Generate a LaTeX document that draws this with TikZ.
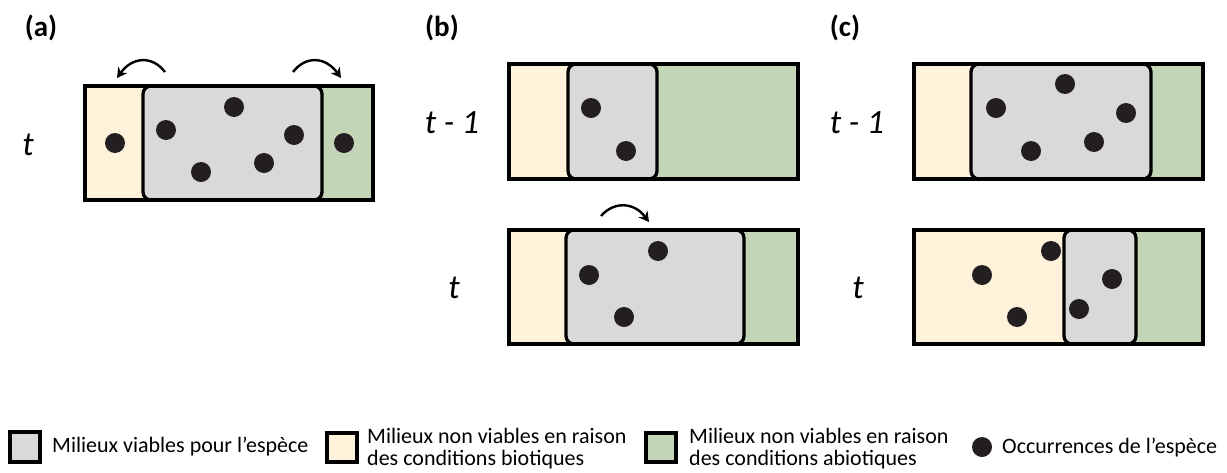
\documentclass[tikz,border=0pt]{standalone}
\usepackage{fontspec}
\setmainfont{Carlito}
\usetikzlibrary{arrows.meta}
\definecolor{zoneGrey}{RGB}{217, 217, 217}
\definecolor{zoneBiotic}{RGB}{255, 242, 218}
\definecolor{zoneAbiotic}{RGB}{194, 213, 182}
\definecolor{dotBlack}{RGB}{35, 31, 32}

\tikzset{
  zoneline/.style={draw=black, line width=3.3pt},
  viable/.style={fill=zoneGrey, draw=black, line width=3.3pt, rounded corners=8pt},
  occ/.style={fill=dotBlack},
  shiftarrow/.style={line width=2.4pt, -{Stealth[length=10pt, width=11pt]}},
  timelabel/.style={anchor=base, inner sep=0pt, font=\itshape\fontsize{34}{38}\selectfont},
  panellabel/.style={font=\bfseries\fontsize{29}{34}\selectfont},
  legendtext/.style={anchor=base west, inner sep=0pt, align=left, font=\fontsize{22}{22}\selectfont},
  legendbox/.style={draw=black, line width=3.3pt}
}

\begin{document}
\begin{tikzpicture}[x=1pt, y=-1pt]
  \useasboundingbox (0,0) rectangle (1227,472);

  % panel (a)
  \node[panellabel] (lab-a) at (41,28) {(a)};
  \node[timelabel] (t-a) at (28,155) {t};
  \fill[zoneBiotic] (85,86) rectangle (143,200);
  \fill[zoneAbiotic] (322,86) rectangle (373,200);
  \draw[viable] (143,86) rectangle (322,200);
  \draw[zoneline] (85,86) rectangle (373,200);
  \foreach \p in {(115,143),(166,130),(234,107),(294,135),(201,172),(264,163),(344,143)}
    \fill[occ] \p circle (10);
  \coordinate (a-left-s) at (165,72);
  \coordinate (a-left-e) at (117,78);
  \coordinate (a-right-s) at (293,72);
  \coordinate (a-right-e) at (341,78);
  \draw[shiftarrow] (a-left-s) .. controls (152,55) and (132,57) .. (a-left-e);
  \draw[shiftarrow] (a-right-s) .. controls (306,55) and (326,57) .. (a-right-e);

  % panel (b)
  \node[panellabel] (lab-b) at (442,28) {(b)};
  \node[timelabel] (t1-b) at (452,133) {t - 1};
  \node[timelabel] (t-b) at (454,298) {t};
  % t - 1
  \fill[zoneBiotic] (509,64) rectangle (568,179);
  \fill[zoneAbiotic] (657,64) rectangle (798,179);
  \draw[viable] (568,64) rectangle (657,179);
  \draw[zoneline] (509,64) rectangle (798,179);
  \foreach \p in {(591,108),(626,151)}
    \fill[occ] \p circle (10);
  % t
  \fill[zoneBiotic] (509,230) rectangle (566,344);
  \fill[zoneAbiotic] (744,230) rectangle (798,344);
  \draw[viable] (566,230) rectangle (744,344);
  \draw[zoneline] (509,230) rectangle (798,344);
  \foreach \p in {(658,251),(589,275),(624,317)}
    \fill[occ] \p circle (10);
  \coordinate (b-shift-s) at (601,216);
  \coordinate (b-shift-e) at (649,222);
  \draw[shiftarrow] (b-shift-s) .. controls (614,201) and (634,202) .. (b-shift-e);

  % panel (c)
  \node[panellabel] (lab-c) at (845,28) {(c)};
  \node[timelabel] (t1-c) at (857,133) {t - 1};
  \node[timelabel] (t-c) at (858,298) {t};
  % t - 1
  \fill[zoneBiotic] (914,64) rectangle (971,179);
  \fill[zoneAbiotic] (1151,64) rectangle (1203,179);
  \draw[viable] (971,64) rectangle (1151,179);
  \draw[zoneline] (914,64) rectangle (1203,179);
  \foreach \p in {(1065,84),(996,108),(1126,113),(1031,151),(1094,142)}
    \fill[occ] \p circle (10);
  % t
  \fill[zoneBiotic] (914,230) rectangle (1064,344);
  \fill[zoneAbiotic] (1136,230) rectangle (1203,344);
  \draw[viable] (1064,230) rectangle (1136,344);
  \draw[zoneline] (914,230) rectangle (1203,344);
  \foreach \p in {(1051,251),(982,275),(1017,317),(1112,279),(1079,309)}
    \fill[occ] \p circle (10);

  % legend
  \draw[legendbox, fill=zoneGrey] (10,432) rectangle (40,462);
  \node[legendtext] (leg-viable) at (52,452) {Milieux viables pour l’espèce};
  \draw[legendbox, fill=zoneBiotic] (327,433) rectangle (357,462);
  \node[legendtext] (leg-biotic) at (367,465) {Milieux non viables en raison\\des conditions biotiques};
  \draw[legendbox, fill=zoneAbiotic] (646,433) rectangle (676,462);
  \node[legendtext] (leg-abiotic) at (689,465) {Milieux non viables en raison\\des conditions abiotiques};
  \fill[occ] (982,447) circle (10);
  \node[legendtext] (leg-occ) at (1002,453) {Occurrences de l’espèce};
\end{tikzpicture}
\end{document}
